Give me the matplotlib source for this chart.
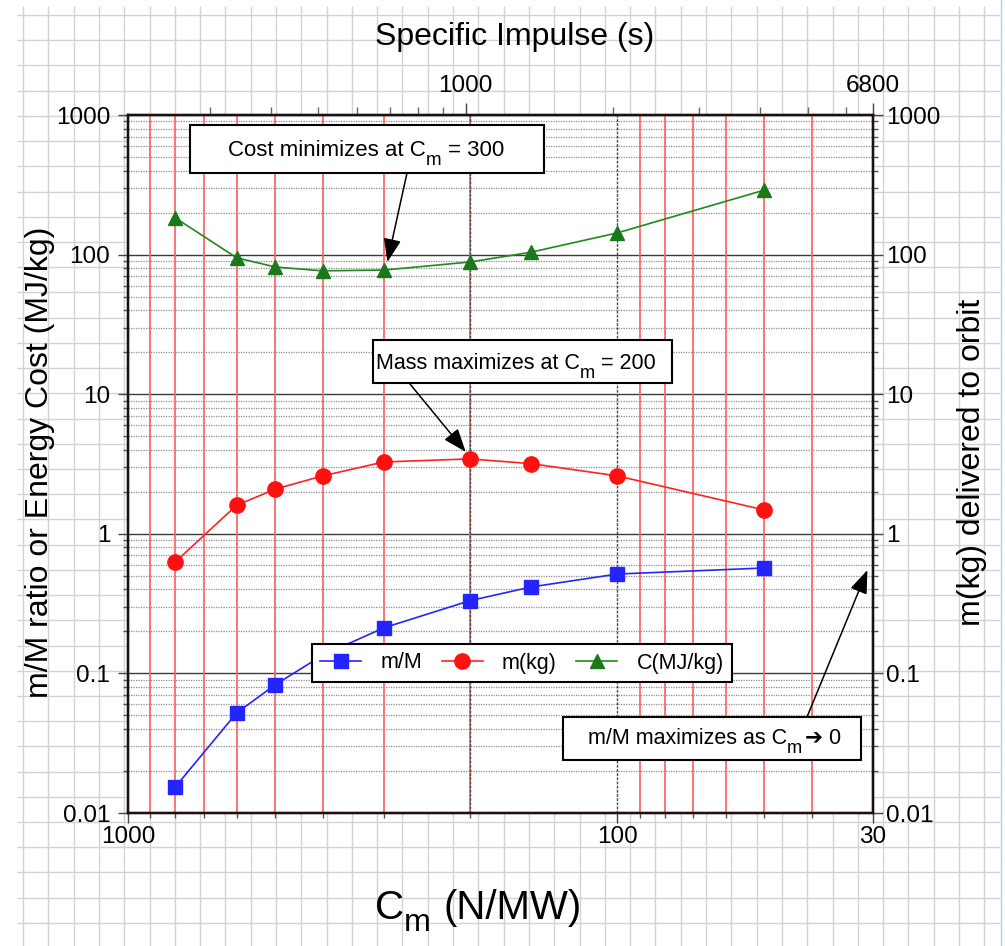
import numpy as np
import matplotlib
matplotlib.use('Agg')
import matplotlib.pyplot as plt
from matplotlib.ticker import FixedLocator, FixedFormatter, NullFormatter, LogLocator
from matplotlib.patches import Rectangle

plt.rcParams['font.family'] = ['Liberation Sans', 'DejaVu Sans']

# ---------------- data ----------------
CM = [800, 600, 500, 400, 300, 200, 150, 100, 50]               # N/MW
MASS_RATIO = [0.0154, 0.052, 0.083, 0.135, 0.212, 0.332, 0.416, 0.515, 0.569]
MASS_KG = [0.63, 1.60, 2.09, 2.60, 3.27, 3.44, 3.18, 2.60, 1.48]
COST_MJ = [183, 95, 81.5, 76.5, 77.5, 88.5, 104, 143, 290]

SERIES_LABELS = ['m/M', 'm(kg)', 'C(MJ/kg)']

X_MAJOR = [1000, 100, 30]
X_MAJOR_LABELS = ['1000', '100', '30']
X_MINOR = [900, 800, 700, 600, 500, 400, 300, 200, 90, 80, 70, 60, 50, 40]
Y_MAJOR = [0.01, 0.1, 1, 10, 100, 1000]
Y_LABELS = ['0.01', '0.1', '1', '10', '100', '1000']
ISP_MAJOR = [1000, 6800]
ISP_MAJOR_LABELS = ['1000', '6800']
ISP_MINOR = [300, 400, 500, 600, 700, 800, 900, 2000, 3000, 4000, 5000, 6000]
ISP_PER_CM = 204000.0        # Isp(s) = ISP_PER_CM / Cm(N/MW)

RED_LINES = X_MINOR
DARK_LINES = [200, 100]

# annotation arrow tips (data coords)
TIP_COST = (295, 88.5)
TIP_MASS = (204, 3.86)
TIP_RATIO = (30.8, 0.55)

# ---------------- layout helpers ----------------
W, H = 1005, 946
def fx(x):
    return x / W
def fy(y):
    return 1 - y / H

fig = plt.figure(figsize=(W / 100, H / 100), dpi=100)
fig.patch.set_facecolor('white')
renderer = fig.canvas.get_renderer()

def rich(x, y, pieces, size, sub_scale=0.85, sub_drop=0.42, zorder=11):
    """pieces: (text, is_subscript, gap_before_em); x,y in pixels (baseline)."""
    cx = x
    em = size * 100 / 72
    for s, sub, gap in pieces:
        cx += gap * em
        fs = size * sub_scale if sub else size
        yy = y + (sub_drop * em if sub else 0)
        t = fig.text(fx(cx), fy(yy), s, fontsize=fs, ha='left', va='baseline',
                     zorder=zorder, family=['Liberation Sans', 'DejaVu Sans'])
        cx += t.get_window_extent(renderer).width

# graph-paper background
bg = fig.add_axes([0, 0, 1, 1], zorder=-10)
bg.set_xlim(0, W)
bg.set_ylim(H, 0)
bg.axis('off')
for gx in np.arange(23, 1000, 25.3):
    bg.plot([gx, gx], [6, H], color='#d2d2d2', lw=1.0, solid_capstyle='butt')
for gy in np.arange(15, H, 25.22):
    bg.plot([17, 1000], [gy, gy], color='#d2d2d2', lw=1.0, solid_capstyle='butt')
bg.plot([1001, 1001], [0, H], color='#8fdcff', lw=1.0)

# main axes
L, R, T, B = 128, 873, 115, 813
ax = fig.add_axes([fx(L), fy(B), (R - L) / W, (B - T) / H])
ax.set_facecolor('white')
ax.set_xscale('log')
ax.set_yscale('log')
ax.set_xlim(1000, 30)
ax.set_ylim(0.01, 1000)
ax.set_axisbelow(True)

for v in RED_LINES:
    ax.axvline(v, color='#ff6262', lw=1.25, zorder=1)
for v in DARK_LINES:
    ax.axvline(v, color='#4a4a4a', lw=1.0, ls=(0, (2, 1)), zorder=1.2)

ax.yaxis.set_major_locator(FixedLocator(Y_MAJOR))
ax.yaxis.set_major_formatter(FixedFormatter(Y_LABELS))
ax.yaxis.set_minor_locator(LogLocator(base=10, subs=np.arange(2, 10)))
ax.yaxis.set_minor_formatter(NullFormatter())
ax.xaxis.set_major_locator(FixedLocator(X_MAJOR))
ax.xaxis.set_major_formatter(FixedFormatter(X_MAJOR_LABELS))
ax.xaxis.set_minor_locator(FixedLocator(X_MINOR))
ax.xaxis.set_minor_formatter(NullFormatter())

ax.grid(True, which='major', axis='y', color='#3a3a3a', lw=1.0)
ax.grid(True, which='minor', axis='y', color='#8c8c8c', lw=0.9, ls=(0, (1, 1)))

ax.tick_params(axis='both', which='major', length=7.2, width=1.0, color='#444444',
               labelsize=17.5, direction='out')
ax.tick_params(axis='both', which='minor', length=3.6, width=1.0, color='#555555',
               direction='out')
ax.tick_params(axis='y', which='both', pad=5.5, left=True, right=False)
ax.tick_params(axis='x', which='both', pad=2.5, bottom=True, top=False)

# data
l1, = ax.plot(CM, MASS_RATIO, color='#2424ff', lw=1.2, marker='s', ms=9.8,
              mec='#2424ff', mfc='#2424ff', zorder=4, label=SERIES_LABELS[0])
l2, = ax.plot(CM, MASS_KG, color='#ff2222', lw=1.2, marker='o', ms=11,
              mec='#ff1010', mfc='#ff1010', zorder=4, label=SERIES_LABELS[1])
l3, = ax.plot(CM, COST_MJ, color='#1e8a1e', lw=1.2, marker='^', ms=10.5,
              mec='#1a7a1a', mfc='#1a7a1a', zorder=4, label=SERIES_LABELS[2])

ax.set_ylabel('m/M ratio or Energy Cost (MJ/kg)', fontsize=23, va='center')
ax.yaxis.set_label_coords((40 - L) / (R - L), (B - 462) / (B - T))

leg = ax.legend(handles=[l1, l2, l3], loc='center',
                bbox_to_anchor=((522 - L) / (R - L), (B - 663) / (B - T)),
                ncol=3, fontsize=15.5, frameon=True, fancybox=False,
                edgecolor='black', framealpha=1, handlelength=1.9,
                handletextpad=0.9, columnspacing=0.9, borderpad=0.4,
                borderaxespad=0, numpoints=1)
leg.get_frame().set_linewidth(1.5)
leg.set_zorder(8)

# right axis
ax2 = ax.twinx()
ax2.set_yscale('log')
ax2.set_ylim(0.01, 1000)
ax2.yaxis.set_major_locator(FixedLocator(Y_MAJOR))
ax2.yaxis.set_major_formatter(FixedFormatter(Y_LABELS))
ax2.yaxis.set_minor_locator(LogLocator(base=10, subs=np.arange(2, 10)))
ax2.yaxis.set_minor_formatter(NullFormatter())
ax2.tick_params(axis='y', which='major', length=7.2, width=1.0, color='#444444',
                labelsize=17.5, direction='out', pad=2.5)
ax2.tick_params(axis='y', which='minor', length=3.6, width=1.0, color='#555555',
                direction='out')
ax2.set_ylabel('m(kg) delivered to orbit', fontsize=23, va='center', rotation=90)
ax2.yaxis.set_label_coords((972 - L) / (R - L), (B - 462) / (B - T))

# top axis: specific impulse
axt = ax.twiny()
axt.set_xscale('log')
axt.set_xlim(1000, 30)
axt.xaxis.set_major_locator(FixedLocator([ISP_PER_CM / v for v in ISP_MAJOR]))
axt.xaxis.set_major_formatter(FixedFormatter(ISP_MAJOR_LABELS))
axt.xaxis.set_minor_locator(FixedLocator([ISP_PER_CM / v for v in ISP_MINOR]))
axt.xaxis.set_minor_formatter(NullFormatter())
axt.tick_params(axis='x', which='major', length=8.8, width=1.0, color='#444444',
                labelsize=17.5, direction='out', pad=4)
axt.tick_params(axis='x', which='minor', length=6.0, width=1.0, color='#666666',
                direction='out')
axt.set_xlabel('Specific Impulse (s)', fontsize=23, va='center')
axt.xaxis.set_label_coords((515 - L) / (R - L), (B - 37) / (B - T))

for a in (ax, ax2, axt):
    for s in a.spines.values():
        s.set_color('#1c1010')
        s.set_linewidth(1.6)

# bottom axis title with a full-size subscript
rich(375, 919, [('C', False, 0), ('m', True, 0.0), ('(N/MW)', False, 0.3)],
     29, sub_scale=0.8, sub_drop=0.3, zorder=11)

# annotation boxes
def box(x0, y0, x1, y1):
    fig.add_artist(Rectangle((fx(x0), fy(y1)), (x1 - x0) / W, (y1 - y0) / H,
                             transform=fig.transFigure, facecolor='white',
                             edgecolor='black', lw=1.5, zorder=10))

box(190, 125, 544, 173)
rich(228, 156, [('Cost minimizes at C', False, 0), ('m', True, 0.0), ('= 300', False, 0.28)], 16)
box(373, 340, 672, 383)
rich(376, 369, [('Mass maximizes at C', False, 0), ('m', True, 0.0), ('= 200', False, 0.28)], 15.5)
box(563, 717, 861, 760)
rich(588, 744, [('m/M maximizes as C', False, 0), ('m', True, 0.0), ('\u2794 0', False, 0.12)], 15.5)

arrow_kw = dict(arrowstyle='-|>,head_length=0.72,head_width=0.27', color='black',
                lw=1.1, shrinkA=0, shrinkB=0, mutation_scale=20)
ax.annotate('', xy=TIP_COST, xycoords='data', xytext=(fx(407), fy(173)),
            textcoords='figure fraction', arrowprops=arrow_kw, zorder=9)
ax.annotate('', xy=TIP_MASS, xycoords='data', xytext=(fx(410), fy(384)),
            textcoords='figure fraction', arrowprops=arrow_kw, zorder=9)
ax.annotate('', xy=TIP_RATIO, xycoords='data', xytext=(fx(807), fy(717)),
            textcoords='figure fraction', arrowprops=arrow_kw, zorder=9)

fig.savefig('out.png', dpi=100)
